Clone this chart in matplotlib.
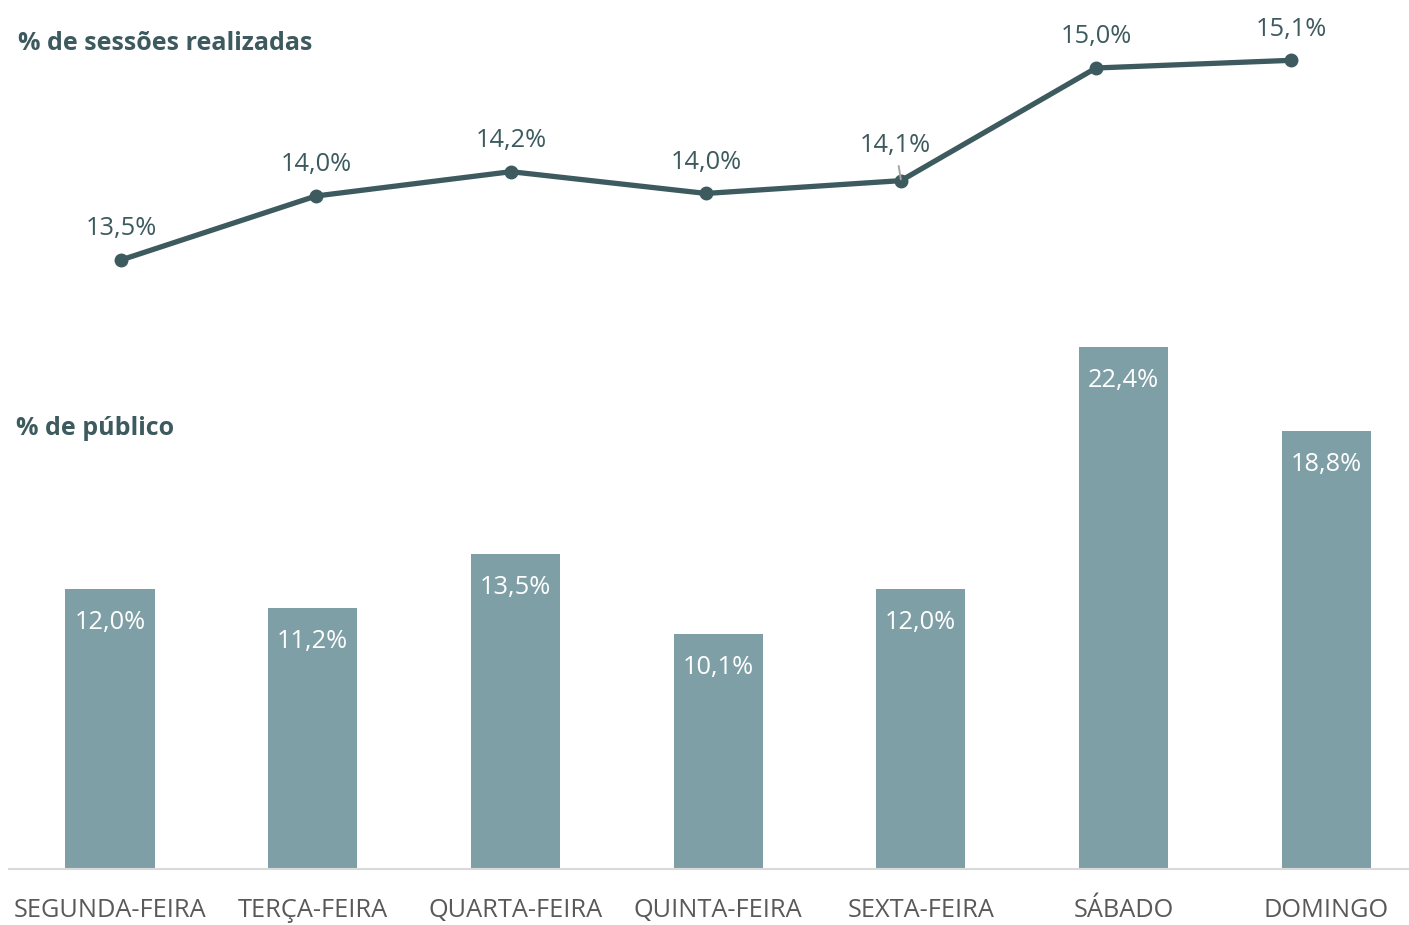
import matplotlib.pyplot as plt

plt.rcParams['font.family'] = ['Open Sans', 'DejaVu Sans']

# Data
dias = ['SEGUNDA-FEIRA', 'TERÇA-FEIRA', 'QUARTA-FEIRA', 'QUINTA-FEIRA',
        'SEXTA-FEIRA', 'SÁBADO', 'DOMINGO']
sessoes = [13.5, 14.0, 14.19, 14.02, 14.12, 15.0, 15.06]
publico = [12.0, 11.2, 13.5, 10.1, 12.0, 22.4, 18.8]

escuro = '#3d5a5f'
barra = '#7f9fa6'
W, H = 1409, 925

fig = plt.figure(figsize=(W / 100, H / 100), dpi=100)

# Bar axes (bottom)
axb = fig.add_axes([9 / W, (H - 869) / H, 1400 / W, (869 - 300) / H])
x = list(range(len(dias)))
axb.bar(x, publico, width=0.44, color=barra)
axb.set_xlim((9 - 110) / 202.7, (1409 - 110) / 202.7)
axb.set_ylim(0, (869 - 300) / 23.3)
for i, v in zip(x, publico):
    axb.annotate(f'{v:.1f}%'.replace('.', ','), (i, v), xytext=(0, -24),
                 textcoords='offset points', ha='center', va='center',
                 color='white', fontsize=18.3)
axb.set_xticks(x)
axb.set_xticklabels(dias, fontsize=18.3, color='#595959')
axb.tick_params(axis='x', length=0, pad=21)
axb.set_yticks([])
for s in ['top', 'left', 'right']:
    axb.spines[s].set_visible(False)
axb.spines['bottom'].set_color('#d9d9d9')
axb.spines['bottom'].set_linewidth(1.5)
axb.patch.set_alpha(0)

# Line axes (top)
axl = fig.add_axes([9 / W, (H - 300) / H, 1400 / W, 300 / H])
axl.plot(x, sessoes, color=escuro, lw=3.8, marker='o', ms=9,
         solid_capstyle='round')
axl.set_xlim((9 - 121) / 195, (1409 - 121) / 195)
axl.set_ylim(13.5 - 40 / 128, 13.5 + 260 / 128)
axl.axis('off')
for i, v in zip(x, sessoes):
    txt = f'{v:.1f}%'.replace('.', ',')
    if i == 4:
        axl.annotate(txt, (i, v), xytext=(-4, 25.5), textcoords='offset points',
                     ha='center', va='center', color=escuro, fontsize=18.3,
                     arrowprops=dict(arrowstyle='-', color='#a6a6a6', lw=1.4,
                                     shrinkA=4, shrinkB=1))
    else:
        axl.annotate(txt, (i, v), xytext=(0, 22.5), textcoords='offset points',
                     ha='center', va='center', color=escuro, fontsize=18.3)

fig.text(18 / W, 1 - 44 / H, '% de sessões realizadas', fontsize=18,
         fontweight='bold', color=escuro, va='center', ha='left')
fig.text(16 / W, 1 - 429 / H, '% de público', fontsize=18,
         fontweight='bold', color=escuro, va='center', ha='left')

fig.savefig('out.png', dpi=100)
plt.close()
